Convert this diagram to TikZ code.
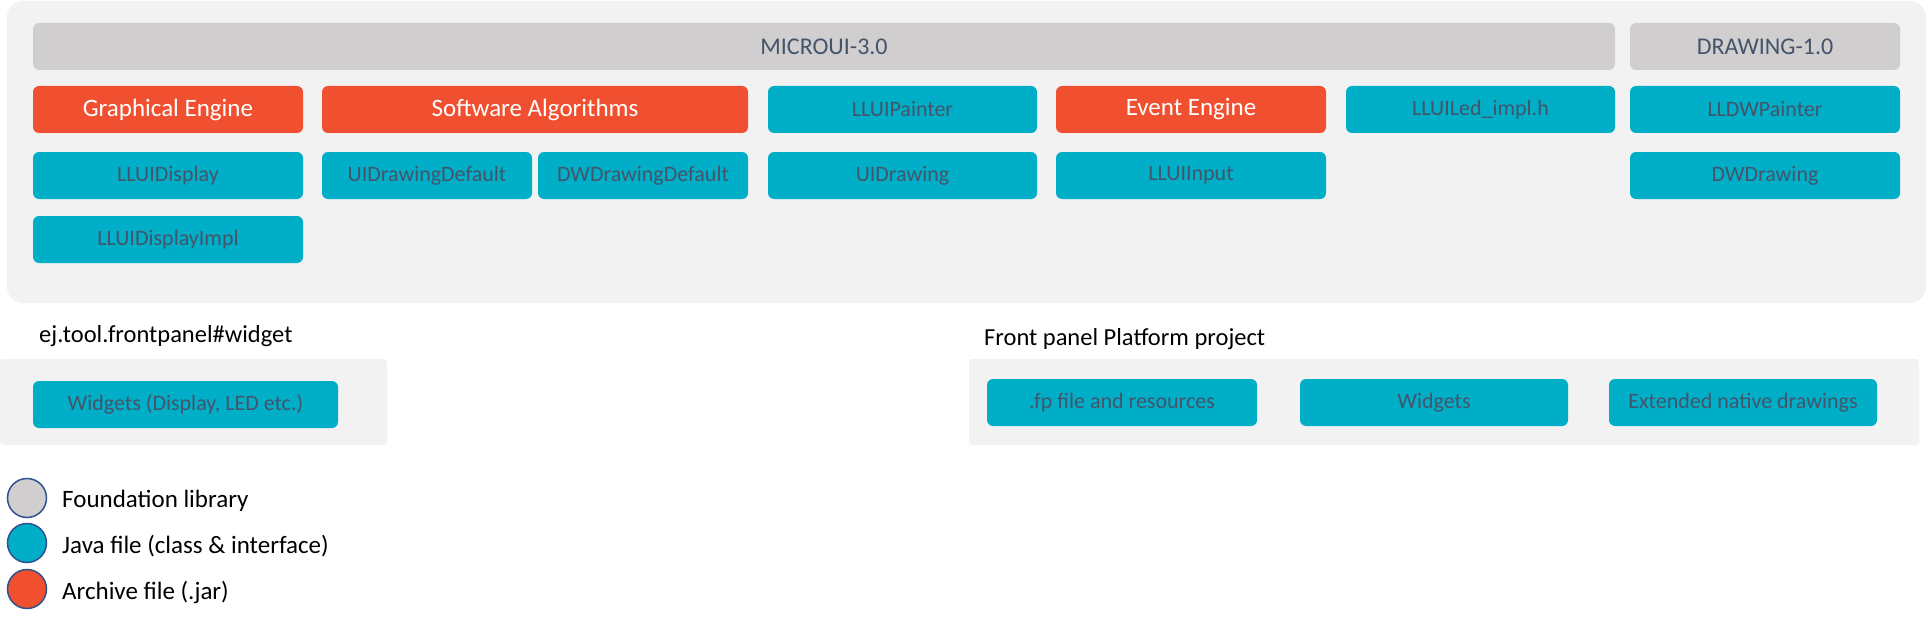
\documentclass[tikz,border=0pt]{standalone}
\usepackage{fontspec}
\setmainfont{Carlito}
\definecolor{bgc}{HTML}{F2F2F2}
\definecolor{libc}{HTML}{D0CECE}
\definecolor{javac}{HTML}{00AEC7}
\definecolor{jarc}{HTML}{F0502F}
\definecolor{txtc}{HTML}{44546A}
\definecolor{ringc}{HTML}{2F528F}
\begin{document}
\begin{tikzpicture}[x=1pt,y=-1pt,
  base/.style={anchor=north west,inner sep=0pt,outer sep=0pt,rounded corners=6pt},
  libbox/.style={base,fill=libc,text=txtc,font=\fontsize{24}{28}\selectfont},
  javabox/.style={base,fill=javac,text=txtc,font=\fontsize{22}{26}\selectfont},
  jarbox/.style={base,fill=jarc,text=white,font=\fontsize{25}{29}\selectfont},
  panel/.style={base,fill=bgc},
  heading/.style={anchor=west,inner sep=0pt,font=\fontsize{24.5}{29}\selectfont},
  legdot/.style={circle,draw=ringc,line width=1.5pt,minimum size=39pt,inner sep=0pt},
  legtext/.style={anchor=west,inner sep=0pt,font=\fontsize{25}{29}\selectfont}
]
\useasboundingbox (0,0) rectangle (1929,623);
% main panel
\node[panel,rounded corners=16pt,minimum width=1919pt,minimum height=302pt] (main) at (7,1) {};
% foundation libraries
\node[libbox,minimum width=1582pt,minimum height=47pt] (microui) at (33,23) {MICROUI-3.0};
\node[libbox,minimum width=270pt,minimum height=47pt] (drawing) at (1630,23) {DRAWING-1.0};
% row 1
\node[jarbox,minimum width=270pt,minimum height=47pt] (ge) at (33,86) {Graphical Engine};
\node[jarbox,minimum width=426pt,minimum height=47pt] (sa) at (322,86) {Software Algorithms};
\node[javabox,minimum width=269pt,minimum height=47pt] (uipainter) at (768,86) {LLUIPainter};
\node[jarbox,minimum width=270pt,minimum height=47pt] (ee) at (1056,86) {Event Engine};
\node[javabox,minimum width=269pt,minimum height=47pt] (led) at (1346,86) {LLUILed\_impl.h};
\node[javabox,minimum width=270pt,minimum height=47pt] (dwpainter) at (1630,86) {LLDWPainter};
% row 2
\node[javabox,minimum width=270pt,minimum height=47pt] (display) at (33,152) {LLUIDisplay};
\node[javabox,minimum width=210pt,minimum height=47pt] (uidd) at (322,152) {UIDrawingDefault};
\node[javabox,minimum width=210pt,minimum height=47pt] (dwdd) at (538,152) {DWDrawingDefault};
\node[javabox,minimum width=269pt,minimum height=47pt] (uidrawing) at (768,152) {UIDrawing};
\node[javabox,minimum width=270pt,minimum height=47pt] (input) at (1056,152) {LLUIInput};
\node[javabox,minimum width=270pt,minimum height=47pt] (dwdrawing) at (1630,152) {DWDrawing};
% row 3
\node[javabox,minimum width=270pt,minimum height=47pt] (displayimpl) at (33,216) {LLUIDisplayImpl};
% bottom left
\node[heading] (widgetlib) at (39,336) {ej.tool.frontpanel\#widget};
\node[panel,rounded corners=3pt,minimum width=387pt,minimum height=86pt] (leftpanel) at (0,359) {};
\node[javabox,minimum width=305pt,minimum height=47pt] (widgets1) at (33,381) {Widgets (Display, LED etc.)};
% bottom right
\node[heading] (fpproject) at (984,339) {Front panel Platform project};
\node[panel,rounded corners=3pt,minimum width=950pt,minimum height=86pt] (rightpanel) at (969,359) {};
\node[javabox,minimum width=270pt,minimum height=47pt] (fp) at (987,379) {.fp file and resources};
\node[javabox,minimum width=268pt,minimum height=47pt] (widgets2) at (1300,379) {Widgets};
\node[javabox,minimum width=268pt,minimum height=47pt] (ext) at (1609,379) {Extended native drawings};
% legend
\node[legdot,fill=libc] (l1) at (27,498) {};
\node[legdot,fill=javac] (l2) at (27,543) {};
\node[legdot,fill=jarc] (l3) at (27,589) {};
\node[legtext] (t1) at (62,501) {Foundation library};
\node[legtext] (t2) at (62,546) {Java file (class \& interface)};
\node[legtext] (t3) at (62,592) {Archive file (.jar)};
\end{tikzpicture}
\end{document}
